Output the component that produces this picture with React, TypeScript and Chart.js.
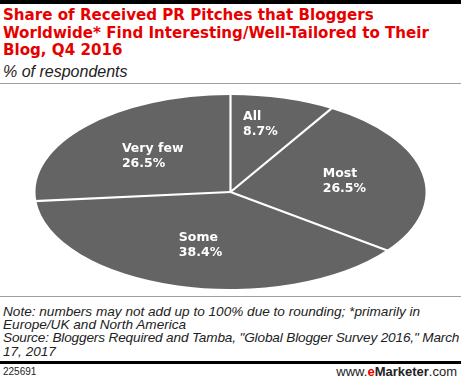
import React, { useEffect, useRef } from "react";
import { Chart, registerables } from "chart.js";

Chart.register(...registerables);

const categories = ["All", "Most", "Some", "Very few"];
const values = [8.7, 26.5, 38.4, 26.5];
const valueLabels = ["8.7%", "26.5%", "38.4%", "26.5%"];

const SLICE_COLOR = "#646464";
const LABEL_RADIUS = [0.72, 0.595, 0.57, 0.54];
const LABEL_SHIFT_X = [-8, 0, 0, 0];
const ELLIPSE_RX = 195;

const ellipsePlugin = {
  id: "ellipse",
  beforeDatasetsDraw(chart: any) {
    const meta = chart.getDatasetMeta(0);
    const arc = meta.data[0];
    if (!arc) return;
    const { x, y, outerRadius } = arc.getProps(["x", "y", "outerRadius"], true);
    const ctx = chart.ctx;
    ctx.save();
    ctx.translate(x, y);
    ctx.scale(ELLIPSE_RX / outerRadius, 1);
    ctx.translate(-x, -y);
  },
  afterDatasetsDraw(chart: any) {
    const meta = chart.getDatasetMeta(0);
    const ctx = chart.ctx;
    ctx.restore();
    if (!meta.data.length) return;
    const { x: cx, y: cy, outerRadius: ry } = meta.data[0].getProps(["x", "y", "outerRadius"], true);
    const rx = ELLIPSE_RX;
    ctx.save();
    ctx.strokeStyle = "#ffffff";
    ctx.lineWidth = 2.2;
    ctx.lineCap = "butt";
    meta.data.forEach((el: any) => {
      const { startAngle } = el.getProps(["startAngle"], true);
      ctx.beginPath();
      ctx.moveTo(cx, cy);
      ctx.lineTo(cx + (rx + 2) * Math.cos(startAngle), cy + (ry + 2) * Math.sin(startAngle));
      ctx.stroke();
    });
    ctx.restore();
    ctx.save();
    ctx.fillStyle = "#ffffff";
    ctx.font = "bold 12.5px 'DejaVu Sans'";
    ctx.textAlign = "left";
    ctx.textBaseline = "middle";
    meta.data.forEach((el: any, i: number) => {
      const { startAngle, endAngle } = el.getProps(["startAngle", "endAngle"], true);
      const mid = (startAngle + endAngle) / 2;
      const f = LABEL_RADIUS[i];
      const px = cx + rx * f * Math.cos(mid) + LABEL_SHIFT_X[i];
      const py = cy + ry * f * Math.sin(mid);
      const l1 = categories[i];
      const l2 = valueLabels[i];
      const w = Math.max(ctx.measureText(l1).width, ctx.measureText(l2).width);
      ctx.fillText(l1, px - w / 2, py - 7.5);
      ctx.fillText(l2, px - w / 2, py + 7.5);
    });
    ctx.restore();
  },
};

function PieChart() {
  const ref = useRef<HTMLCanvasElement>(null);
  useEffect(() => {
    if (!ref.current) return;
    const chart = new Chart(ref.current, {
      type: "pie",
      data: {
        labels: categories,
        datasets: [
          {
            data: values,
            backgroundColor: SLICE_COLOR,
            borderWidth: 0,
          },
        ],
      },
      options: {
        animation: false,
        responsive: false,
        maintainAspectRatio: false,
        layout: { padding: 0 },
        plugins: {
          legend: { display: false },
          tooltip: { enabled: false },
          title: { display: false },
        },
      },
      plugins: [ellipsePlugin],
    });
    return () => chart.destroy();
  }, []);
  return (
    <canvas
      ref={ref}
      width={461}
      height={194}
      style={{ position: "absolute", left: 0, top: 95, width: 461, height: 194 }}
    />
  );
}

export default function App() {
  return (
    <div
      style={{
        position: "fixed",
        left: 0,
        top: 0,
        width: 461,
        height: 381,
        background: "#ffffff",
        overflow: "hidden",
      }}
    >
      <div style={{ position: "absolute", left: 0, top: 0, width: 461, height: 4, background: "#000" }} />
      <div
        style={{
          position: "absolute",
          left: 3,
          top: 7,
          width: 458,
          font: "bold 15.1px 'DejaVu Sans'",
          lineHeight: "17.5px",
          color: "#e60000",
          whiteSpace: "nowrap",
        }}
      >
        Share of Received PR Pitches that Bloggers
        <br />
        Worldwide* Find Interesting/Well-Tailored to Their
        <br />
        Blog, Q4 2016
      </div>
      <div
        style={{
          position: "absolute",
          left: 3,
          top: 63,
          font: "italic 16px 'Liberation Sans'",
          lineHeight: "17px",
          color: "#222",
          whiteSpace: "nowrap",
        }}
      >
        % of respondents
      </div>
      <div style={{ position: "absolute", left: 0, top: 83, width: 461, height: 1, background: "#a0a0a0" }} />
      <PieChart />
      <div style={{ position: "absolute", left: 0, top: 296, width: 461, height: 1, background: "#a0a0a0" }} />
      <div
        style={{
          position: "absolute",
          left: 3,
          top: 304.5,
          font: "italic 13.6px 'Liberation Sans'",
          lineHeight: "13.4px",
          color: "#222",
          whiteSpace: "nowrap",
        }}
      >
        Note: numbers may not add up to 100% due to rounding; *primarily in
        <br />
        Europe/UK and North America
        <br />
        <span style={{ letterSpacing: "-0.15px" }}>
          Source: Bloggers Required and Tamba, "Global Blogger Survey 2016," March
        </span>
        <br />
        17, 2017
      </div>
      <div style={{ position: "absolute", left: 0, top: 361, width: 461, height: 3, background: "#000" }} />
      <div
        style={{
          position: "absolute",
          left: 3,
          top: 366,
          font: "10px 'Liberation Sans'",
          lineHeight: "11px",
          color: "#222",
        }}
      >
        225691
      </div>
      <div
        style={{
          position: "absolute",
          right: 4,
          top: 365.5,
          font: "13px 'Liberation Sans'",
          lineHeight: "12px",
          color: "#222",
          whiteSpace: "nowrap",
        }}
      >
        www.<span style={{ color: "#e60000", fontWeight: "bold" }}>e</span>
        <span style={{ fontWeight: "bold" }}>Marketer</span>.com
      </div>
    </div>
  );
}
